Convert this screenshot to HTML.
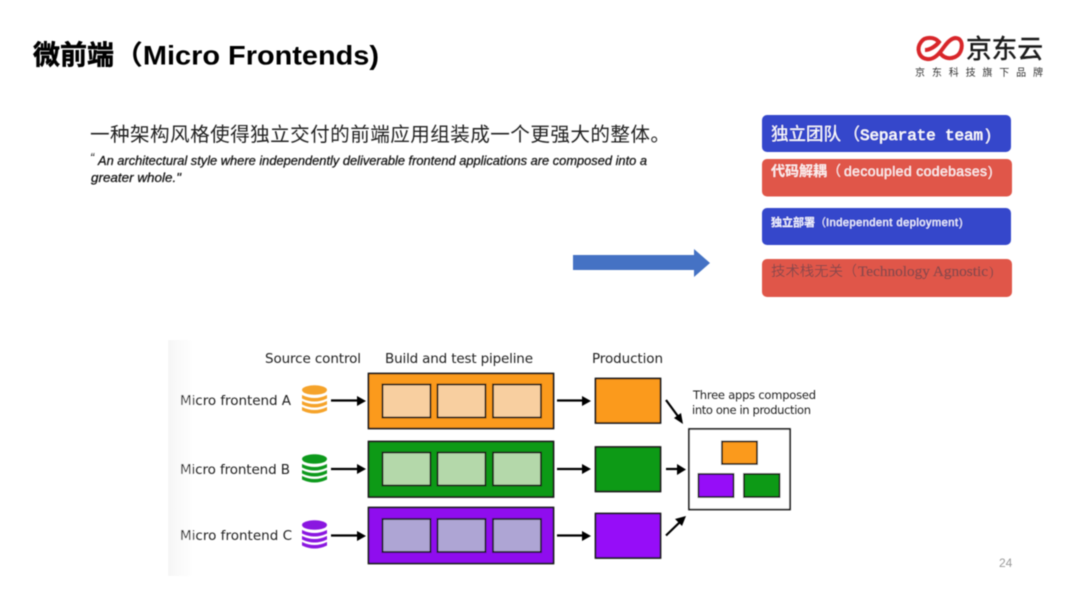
<!DOCTYPE html>
<html lang="zh">
<head>
<meta charset="utf-8">
<title>微前端 (Micro Frontends)</title>
<style>
html,body{margin:0;padding:0;background:#fff;width:1080px;height:608px;overflow:hidden}
svg{display:block}
text{font-family:"Liberation Sans","Noto Sans CJK SC",sans-serif}
text.mono{font-family:"Liberation Mono","Noto Sans CJK SC",monospace}
text.serif{font-family:"Liberation Serif","Noto Serif CJK SC",serif}
.soft{filter:url(#b)}
.d text{fill:#222;font-size:13.5px;font-family:"DejaVu Sans","Liberation Sans",sans-serif}
.k{stroke:#141414;stroke-width:1.7}
.ar{stroke:#000;stroke-width:2.2;fill:none}
</style>
</head>
<body>
<svg width="1080" height="608" viewBox="0 0 1080 608" xmlns="http://www.w3.org/2000/svg">
<defs>
<filter id="b" x="-5%" y="-5%" width="110%" height="110%"><feGaussianBlur stdDeviation="0.45"/></filter>
<linearGradient id="bg" x1="0" x2="1" y1="0" y2="0"><stop offset="0" stop-color="#f6f6f6"/><stop offset="1" stop-color="#fff"/></linearGradient>
</defs>

<g class="soft">
<!-- Title -->
<text x="33" y="64.500" font-size="27" font-weight="700" fill="#000" stroke="#000" stroke-width="0.5">微前端</text>
<text x="114" y="64.500" font-size="27" font-weight="700" fill="#000" textLength="265" lengthAdjust="spacingAndGlyphs">（Micro Frontends)</text>

<!-- Logo -->
<path d="M925 50 C930 50 936 46 939 42 C935 37 925 36 921 42 C916 49 919 58 927 59 C934 60 939 54 944 47 C949 40 954 36 959 39 C964 43 962 54 955 57 C948 60 943 57 940 53" fill="none" stroke="#d8252a" stroke-width="4"/>
<text x="966" y="58" font-size="26" fill="#1a1a1a" stroke="#1a1a1a" stroke-width="0.5" textLength="77" lengthAdjust="spacingAndGlyphs">京东云</text>
<text x="915" y="76" font-size="10" fill="#333" textLength="128">京东科技旗下品牌</text>

<!-- Body text -->
<text x="90" y="141" font-size="19.600" fill="#222" textLength="580">一种架构风格使得独立交付的前端应用组装成一个更强大的整体。</text>
<text x="90" y="162" font-size="12.600" fill="#222" font-style="italic">“</text>
<text x="98" y="165" font-size="12.600" fill="#111" stroke="#111" stroke-width="0.25" font-style="italic" textLength="549" lengthAdjust="spacingAndGlyphs">An architectural style where independently deliverable frontend applications are composed into a</text>
<text x="91" y="182" font-size="12.600" fill="#111" stroke="#111" stroke-width="0.25" font-style="italic" textLength="90" lengthAdjust="spacingAndGlyphs">greater whole."</text>

<!-- Big arrow -->
<polygon points="573,255 694,255 694,249 710,263 694,277 694,270 573,270" fill="#4472c4"/>

<!-- Right-side boxes -->
<rect x="762" y="115" width="249" height="37" rx="5" fill="#3447cb"/>
<rect x="762" y="159" width="250" height="37.500" rx="5" fill="#e0574a"/>
<rect x="762" y="208" width="249" height="37" rx="5" fill="#3447cb"/>
<rect x="762" y="259" width="250" height="38" rx="5" fill="#e0574a"/>

<text x="771" y="140" font-size="17.500" fill="#fff">独立团队</text>
<text x="843" y="140" font-size="17" fill="#fff">（</text>
<text class="mono" x="860" y="140" font-size="16" fill="#fff" stroke="#fff" stroke-width="0.3" textLength="123" lengthAdjust="spacing">Separate team</text>
<text class="mono" x="983" y="140" font-size="16" fill="#fff">)</text>

<text x="771" y="176" font-size="14" font-weight="700" fill="#fbeeee">代码解耦</text>
<text x="827" y="176" font-size="14" fill="#fbeeee">（</text>
<text x="844" y="176" font-size="14" fill="#fbeeee" stroke="#fbeeee" stroke-width="0.25" textLength="143" lengthAdjust="spacing">decoupled codebases</text>
<text x="988" y="176" font-size="14" fill="#fbeeee">)</text>

<text x="771" y="226" font-size="11" font-weight="700" fill="#f2f3ff">独立部署</text>
<text x="815" y="226" font-size="11" fill="#f2f3ff">（</text>
<text x="826" y="226" font-size="11" fill="#f2f3ff" stroke="#f2f3ff" stroke-width="0.2" textLength="132" lengthAdjust="spacing">Independent deployment</text>
<text x="959" y="226" font-size="11" fill="#f2f3ff">)</text>

<text x="771" y="276" font-size="14.400" fill="#8a4a4c">技术栈无关</text>
<text x="843" y="276" font-size="14" fill="#8a4a4c">（</text>
<text class="serif" x="858" y="276" font-size="14.500" fill="#8a4a4c" stroke="#8a4a4c" stroke-width="0.3" textLength="130" lengthAdjust="spacingAndGlyphs">Technology Agnostic</text>
<text class="serif" x="989" y="276" font-size="14" fill="#8a4a4c">)</text>

<!-- Page number -->
<text x="999" y="567" font-size="12" fill="#9a9a9a">24</text>

<!-- Diagram -->
<rect x="168" y="340" width="26" height="236" fill="url(#bg)"/>
<g class="d">
<text x="265" y="363" textLength="96">Source control</text>
<text x="385" y="363" textLength="148">Build and test pipeline</text>
<text x="592" y="363" textLength="71">Production</text>
<text x="180" y="405" textLength="111">Micro frontend A</text>
<text x="180" y="474" textLength="110">Micro frontend B</text>
<text x="180" y="540" textLength="112">Micro frontend C</text>
<text x="693" y="399" style="font-size:11.500px" textLength="123">Three apps composed</text>
<text x="692" y="414" style="font-size:11.500px" textLength="119">into one in production</text>
</g>

<!-- Databases -->
<g fill="#f5a32c">
<ellipse cx="314.500" cy="390" rx="12.500" ry="4.800"/>
<path d="M302 395 q12.500 6 25 0 v3.500 q-12.500 6 -25 0z"/>
<path d="M302 401 q12.500 6 25 0 v3.500 q-12.500 6 -25 0z"/>
<path d="M302 407 q12.500 6 25 0 v3.500 q-12.500 6 -25 0z"/>
</g>
<g fill="#119a1f">
<ellipse cx="314.500" cy="459" rx="12.500" ry="4.800"/>
<path d="M302 464 q12.500 6 25 0 v3.500 q-12.500 6 -25 0z"/>
<path d="M302 470 q12.500 6 25 0 v3.500 q-12.500 6 -25 0z"/>
<path d="M302 476 q12.500 6 25 0 v3.500 q-12.500 6 -25 0z"/>
</g>
<g fill="#8a12e0">
<ellipse cx="314.500" cy="525" rx="12.500" ry="4.800"/>
<path d="M302 530 q12.500 6 25 0 v3.500 q-12.500 6 -25 0z"/>
<path d="M302 536 q12.500 6 25 0 v3.500 q-12.500 6 -25 0z"/>
<path d="M302 542 q12.500 6 25 0 v3.500 q-12.500 6 -25 0z"/>
</g>

<!-- Pipelines -->
<rect class="k" x="368.500" y="373.500" width="185" height="55" fill="#fb9a1a"/>
<rect class="k" x="368.500" y="441.500" width="185" height="55.500" fill="#0e9a18"/>
<rect class="k" x="368.500" y="507.500" width="185" height="56" fill="#8f10ee"/>
<g class="k" fill="#f8cfa0">
<rect x="382.500" y="384.500" width="48" height="33"/>
<rect x="437.500" y="384.500" width="48" height="33"/>
<rect x="493" y="384.500" width="48" height="33"/>
</g>
<g class="k" fill="#b4d8aa">
<rect x="382.500" y="452.500" width="48" height="33"/>
<rect x="437.500" y="452.500" width="48" height="33"/>
<rect x="493" y="452.500" width="48" height="33"/>
</g>
<g class="k" fill="#aea5d4">
<rect x="382.500" y="519" width="48" height="33"/>
<rect x="437.500" y="519" width="48" height="33"/>
<rect x="493" y="519" width="48" height="33"/>
</g>

<!-- Production -->
<rect class="k" x="595.500" y="378.500" width="65" height="44.500" fill="#fb9a1a"/>
<rect class="k" x="595.500" y="447" width="65" height="44.500" fill="#0e9a18"/>
<rect class="k" x="595.500" y="513.500" width="65" height="44.500" fill="#9610f8"/>

<!-- Composite -->
<rect class="k" x="689" y="429" width="101" height="80.500" fill="#fff"/>
<rect class="k" x="722" y="441.500" width="35" height="22.500" fill="#fb9a1a"/>
<rect class="k" x="698.500" y="474" width="35" height="23" fill="#9610f8"/>
<rect class="k" x="744" y="474" width="35.500" height="23" fill="#0e9a18"/>

<!-- Arrows -->
<g class="ar">
<path d="M331 400.500H358"/><path d="M331 469H358"/><path d="M331 535.500H358"/>
<path d="M557 400.500H584"/><path d="M557 469H584"/><path d="M557 535.500H584"/>
<path d="M666 400L680 419"/>
<path d="M666 469H682"/>
<path d="M666 535.500L681 521"/>
</g>
<g fill="#000">
<polygon points="357,396 366,401 357,406"/>
<polygon points="357,464 366,469 357,474"/>
<polygon points="357,531 366,536 357,541"/>
<polygon points="582,396 591,401 582,406"/>
<polygon points="582,464 591,469 582,474"/>
<polygon points="582,531 591,536 582,541"/>
<polygon points="683,424 674,418 681,413"/>
<polygon points="686,469.500 677,464 677,475"/>
<polygon points="686,516 682,526 675,519"/>
</g>
</g>
</svg>
</body>
</html>
